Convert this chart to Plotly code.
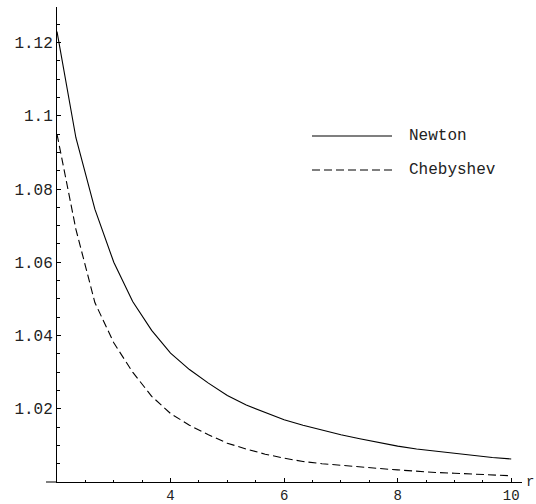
import plotly.graph_objects as go

# ---- data ----
r_vals = [2.0, 2.333, 2.667, 3.0, 3.333, 3.667, 4.0, 4.333, 4.667, 5.0, 5.333, 5.667,
          6.0, 6.333, 6.667, 7.0, 7.333, 7.667, 8.0, 8.333, 8.667, 9.0, 9.333, 9.667, 10.0]
newton = [1.123, 1.094, 1.0745, 1.060, 1.0493, 1.0414, 1.0352, 1.0307, 1.0270, 1.0236,
          1.0210, 1.0189, 1.0170, 1.0155, 1.0141, 1.0129, 1.0118, 1.0107, 1.0098, 1.0090,
          1.0084, 1.0077, 1.0072, 1.0067, 1.0063]
chebyshev = [1.095, 1.069, 1.049, 1.038, 1.030, 1.0234, 1.0187, 1.0155, 1.0129, 1.0106,
             1.0090, 1.0076, 1.0065, 1.0056, 1.0050, 1.0045, 1.0041, 1.0037, 1.0033, 1.0029,
             1.0026, 1.0024, 1.0022, 1.0020, 1.0017]

x_ticks = [4, 6, 8, 10]
x_tick_labels = ["4", "6", "8", "10"]
y_ticks = [1.02, 1.04, 1.06, 1.08, 1.10, 1.12]
y_tick_labels = ["1.02", "1.04", "1.06", "1.08", "1.1", "1.12"]
series_names = ["Newton", "Chebyshev"]
axis_label = "r"

# ---- layout geometry ----
W, H = 536, 504
L, R, T, B = 57, 14, 7, 22
PW, PH = W - L - R, H - T - B
FONT = "Courier New, Liberation Mono, monospace"
FS = 16
TXT = "#222"

def px2paper_x(px):
    return (px - L) / PW

def py2paper_y(py):
    return (H - B - py) / PH

fig = go.Figure()
fig.add_trace(go.Scatter(x=r_vals, y=newton, mode="lines", name=series_names[0],
                         line=dict(color="black", width=1.1), showlegend=False))
fig.add_trace(go.Scatter(x=r_vals, y=chebyshev, mode="lines", name=series_names[1],
                         line=dict(color="black", width=1.1, dash="8px,4px"), showlegend=False))

axis_common = dict(showgrid=False, zeroline=False, showline=True, linecolor="black",
                   linewidth=1, ticks="inside", ticklen=4, tickcolor="black", tickwidth=1,
                   automargin=False)

fig.update_xaxes(range=[2, 10.19], tickvals=x_ticks, ticktext=x_tick_labels,
                 tickfont=dict(family=FONT, size=14, color=TXT),
                 minor=dict(dtick=0.5, tick0=2, ticks="inside", ticklen=2.5, tickcolor="black"),
                 **axis_common)
fig.update_yaxes(range=[1.0, 1.1297], tickvals=y_ticks, ticktext=y_tick_labels,
                 tickfont=dict(family=FONT, size=FS, color=TXT),
                 minor=dict(dtick=0.005, tick0=1.0, ticks="inside", ticklen=2.5, tickcolor="black"),
                 **axis_common)

shapes = []
# x-axis line extends slightly left of the y-axis
shapes.append(dict(type="line", xref="paper", yref="paper", x0=px2paper_x(46), x1=0,
                   y0=0, y1=0, line=dict(color="black", width=1)))
# legend samples
shapes.append(dict(type="line", xref="paper", yref="paper", x0=px2paper_x(312), x1=px2paper_x(392),
                   y0=py2paper_y(136), y1=py2paper_y(136), line=dict(color="black", width=1.1)))
shapes.append(dict(type="line", xref="paper", yref="paper", x0=px2paper_x(312), x1=px2paper_x(392),
                   y0=py2paper_y(170), y1=py2paper_y(170),
                   line=dict(color="black", width=1.1, dash="8px,4px")))

annotations = [
    dict(text=series_names[0], xref="paper", yref="paper", x=px2paper_x(407), y=py2paper_y(136),
         xanchor="left", yanchor="middle", showarrow=False, font=dict(family=FONT, size=FS, color=TXT)),
    dict(text=series_names[1], xref="paper", yref="paper", x=px2paper_x(407), y=py2paper_y(170),
         xanchor="left", yanchor="middle", showarrow=False, font=dict(family=FONT, size=FS, color=TXT)),
    dict(text=axis_label, xref="paper", yref="y", x=1, y=1.0, xanchor="left", yanchor="middle",
         xshift=2, showarrow=False, font=dict(family=FONT, size=14, color=TXT)),
]

fig.update_layout(width=W, height=H, margin=dict(l=L, r=R, t=T, b=B, pad=0, autoexpand=False),
                  paper_bgcolor="white", plot_bgcolor="white",
                  shapes=shapes, annotations=annotations, showlegend=False)

fig.write_html("out.html")
